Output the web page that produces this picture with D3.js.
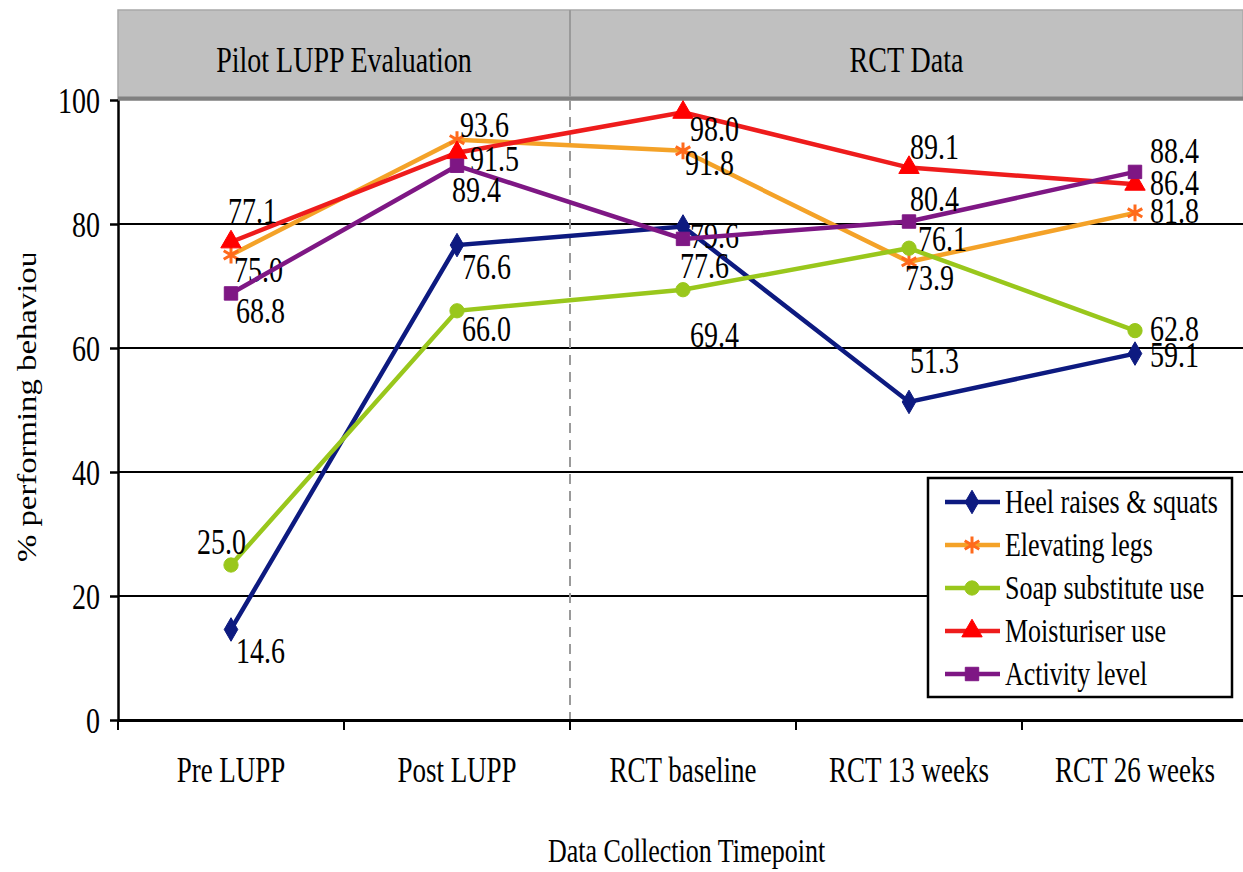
<!doctype html>
<html>
<head>
<meta charset="utf-8">
<script src="https://d3js.org/d3.v7.min.js"></script>
<style>
  body { margin: 0; background: #fff; }
  text { font-family: "Liberation Serif", "Times New Roman", serif; fill: #000; }
</style>
</head>
<body>
<div id="chart"></div>
<script>
// data
var timepoints = ["Pre LUPP", "Post LUPP", "RCT baseline", "RCT 13 weeks", "RCT 26 weeks"];
var heelRaises   = [14.6, 76.6, 79.6, 51.3, 59.1];
var elevLegs     = [75.0, 93.6, 91.8, 73.9, 81.8];
var soapUse      = [25.0, 66.0, 69.4, 76.1, 62.8];
var moistUse     = [77.1, 91.5, 98.0, 89.1, 86.4];
var activity     = [68.8, 89.4, 77.6, 80.4, 88.4];
var yTicks = [0, 20, 40, 60, 80, 100];
var phases = ["Pilot LUPP Evaluation", "RCT Data"];

// label offsets [dx, dy] from each point (layout only)
var labelOff = {
  heel:  [[5, 31], [5, 31], [7, 19], [1, -32], [15, 10]],
  elev:  [[3, 24], [3, -6], [2, 21], [-4, 25], [15, 7]],
  soap:  [[-34, -14], [5, 27], [7, 54], [9, 0], [15, 7]],
  moist: [[-3, -22], [13, 15], [7, 26], [1, -12], [15, 8]],
  act:   [[5, 27], [-5, 33], [-3, 36], [1, -14], [15, -12]]
};

var series = [
  {key: "heel",  name: "Heel raises & squats", values: heelRaises, line: "#0d1a80", mark: "#0d1a80", sym: d3.symbolDiamond, size: 160},
  {key: "elev",  name: "Elevating legs",       values: elevLegs,   line: "#f4a228", mark: "#ff6a1c", sym: d3.symbolAsterisk, size: 200, stroke: true},
  {key: "soap",  name: "Soap substitute use",  values: soapUse,    line: "#99c71c", mark: "#99c71c", sym: d3.symbolCircle, size: 160},
  {key: "moist", name: "Moisturiser use",      values: moistUse,   line: "#ee1c1c", mark: "#ff0000", sym: d3.symbolTriangle, size: 180},
  {key: "act",   name: "Activity level",       values: activity,   line: "#7e1784", mark: "#7e1784", sym: d3.symbolSquare, size: 180}
];

var W = 1243, H = 872;
var mLeft = 118, mRight = 1248, mTop = 100, mBottom = 720;
var K = 1.3; // the scanned text is taller than it is wide

// stretch text vertically about its baseline
function tall(sel) {
  sel.each(function() {
    var t = d3.select(this);
    var yv = +t.attr("y") || 0;
    t.attr("y", yv / K).attr("transform", "scale(1," + K + ")");
  });
}

var svg = d3.select("#chart").append("svg")
    .attr("width", W).attr("height", H);

var x = d3.scaleBand().domain(timepoints).range([mLeft, mRight]);
var bw = x.bandwidth();
var cx = function(i) { return x(timepoints[i]) + bw / 2; };
var y = d3.scaleLinear().domain([0, 100]).range([mBottom, mTop]);

// header band
var split = x(timepoints[2]);
svg.append("rect")
    .attr("x", mLeft).attr("y", 10).attr("width", W - mLeft).attr("height", mTop - 10)
    .attr("fill", "#c0c0c0").attr("stroke", "#a8a8a8").attr("stroke-width", 1.5);
svg.append("line")
    .attr("x1", mLeft).attr("x2", W).attr("y1", mTop - 1.5).attr("y2", mTop - 1.5)
    .attr("stroke", "#808080").attr("stroke-width", 4);
svg.append("line")
    .attr("x1", split).attr("x2", split).attr("y1", 10).attr("y2", mTop - 3)
    .attr("stroke", "#9a9a9a").attr("stroke-width", 2);
svg.selectAll(".phase")
    .data(phases)
    .enter().append("text")
    .attr("x", function(d, i) { return i == 0 ? (mLeft + split) / 2 : (split + W) / 2; })
    .attr("y", 72)
    .attr("text-anchor", "middle")
    .style("font-size", "28px")
    .text(function(d) { return d; })
    .call(tall);

// gridlines
svg.selectAll(".grid")
    .data(yTicks.filter(function(d) { return d > 0 && d < 100; }))
    .enter().append("line")
    .attr("x1", mLeft).attr("x2", W)
    .attr("y1", function(d) { return y(d); }).attr("y2", function(d) { return y(d); })
    .attr("stroke", "#000").attr("stroke-width", 2);

// dashed phase divider
svg.append("line")
    .attr("x1", split).attr("x2", split).attr("y1", mTop).attr("y2", mBottom)
    .attr("stroke", "#9a9a9a").attr("stroke-width", 2).attr("stroke-dasharray", "10,7");

// y axis
var yAxis = svg.append("g")
    .attr("transform", "translate(" + mLeft + ",0)")
    .call(d3.axisLeft(y).tickValues(yTicks).tickSize(8).tickPadding(10).tickSizeOuter(0));
yAxis.select(".domain").attr("stroke", "#000").attr("stroke-width", 2.5);
yAxis.selectAll(".tick line").attr("stroke", "#000").attr("stroke-width", 2.5);
yAxis.selectAll("text").style("font-size", "28px").attr("dy", null).attr("y", 12).call(tall);

// x axis
var xAxis = svg.append("g")
    .attr("transform", "translate(0," + mBottom + ")")
    .call(d3.axisBottom(x).tickSize(10).tickPadding(28).tickSizeOuter(0));
xAxis.select(".domain").attr("stroke", "#000").attr("stroke-width", 3);
xAxis.selectAll(".tick line")
    .attr("x1", -bw / 2).attr("x2", -bw / 2)
    .attr("stroke", "#000").attr("stroke-width", 2);
xAxis.selectAll("text").style("font-size", "27px").attr("dy", null).attr("y", 62).call(tall);

// axis titles
svg.append("text")
    .attr("x", (mLeft + W) / 2 + 6).attr("y", 862)
    .attr("text-anchor", "middle")
    .style("font-size", "26px")
    .text("Data Collection Timepoint")
    .call(tall);

// y title: the scan cuts the last letter off
svg.append("clipPath").attr("id", "ylabClip")
  .append("rect").attr("x", 0).attr("y", 254).attr("width", 60).attr("height", 400);
svg.append("g")
    .attr("clip-path", "url(#ylabClip)")
  .append("text")
    .attr("transform", "translate(36,562) rotate(-90) scale(1.17,1)")
    .attr("text-anchor", "start")
    .style("font-size", "28px")
    .text("% performing behaviour");

// lines
var line = d3.line()
    .x(function(d, i) { return cx(i); })
    .y(function(d) { return y(d); });

var g = svg.selectAll(".series")
    .data(series)
    .enter().append("g");

g.append("path")
    .attr("d", function(s) { return line(s.values); })
    .attr("fill", "none")
    .attr("stroke", function(s) { return s.line; })
    .attr("stroke-width", 4.5);

g.each(function(s) {
  var sel = d3.select(this);
  sel.selectAll(".pt")
    .data(s.values)
    .enter().append("path")
    .attr("transform", function(d, i) { return "translate(" + cx(i) + "," + y(d) + ")"; })
    .attr("d", d3.symbol().type(s.sym).size(s.size))
    .attr("fill", s.stroke ? "none" : s.mark)
    .attr("stroke", s.mark)
    .attr("stroke-width", s.stroke ? 3 : 1);
});

// data labels
g.each(function(s) {
  d3.select(this).selectAll(".lbl")
    .data(s.values)
    .enter().append("text")
    .attr("x", function(d, i) { return cx(i) + labelOff[s.key][i][0]; })
    .attr("y", function(d, i) { return y(d) + labelOff[s.key][i][1] + 3; })
    .style("font-size", "28px")
    .text(function(d) { return d.toFixed(1); })
    .call(tall);
});

// legend
var lg = svg.append("g").attr("transform", "translate(928,478)");
lg.append("rect")
    .attr("width", 304).attr("height", 219)
    .attr("fill", "#fff").attr("stroke", "#000").attr("stroke-width", 2.5);
var item = lg.selectAll(".item")
    .data(series)
    .enter().append("g")
    .attr("transform", function(d, i) { return "translate(0," + (24 + i * 43) + ")"; });
item.append("line")
    .attr("x1", 17).attr("x2", 72)
    .attr("stroke", function(s) { return s.line; }).attr("stroke-width", 4.5);
item.append("path")
    .attr("transform", "translate(44,0)")
    .attr("d", function(s) { return d3.symbol().type(s.sym).size(s.size)(); })
    .attr("fill", function(s) { return s.stroke ? "none" : s.mark; })
    .attr("stroke", function(s) { return s.mark; })
    .attr("stroke-width", function(s) { return s.stroke ? 3 : 1; });
item.append("text")
    .attr("x", 77).attr("y", 11)
    .style("font-size", "26px")
    .text(function(s) { return s.name; })
    .call(tall);
</script>
</body>
</html>
